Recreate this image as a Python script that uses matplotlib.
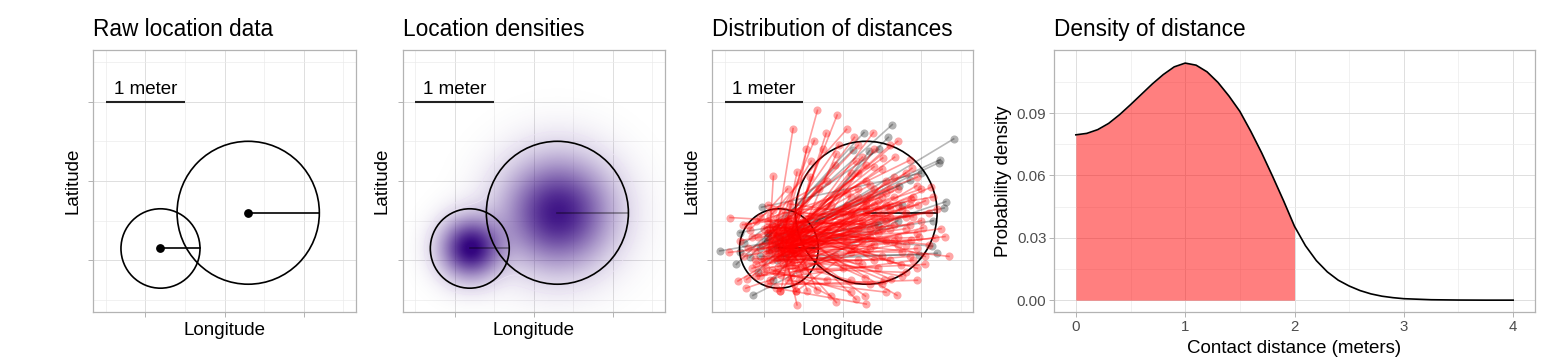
import numpy as np
import matplotlib.pyplot as plt
from matplotlib.patches import Circle

plt.rcParams['font.family'] = ['Liberation Sans', 'DejaVu Sans']

# two locations: centre (m) and uncertainty radius (m)
centre_x = [-0.81, 0.30]
centre_y = [-0.85, -0.40]
radius = [0.5, 0.9]

# sampled location pairs (small-circle end -> large-circle end), meters
seg_start = [
    (-0.80, -0.85), (-0.72, -0.80), (-0.85, -0.70), (-0.70, -0.92), (-0.90, -0.78),
    (-0.66, -0.74), (-0.78, -0.96), (-0.62, -0.86), (-0.94, -0.90), (-0.74, -0.66),
    (-0.70, -1.00), (-0.58, -0.70), (-0.82, -0.62), (-0.60, -0.62), (-0.88, -0.58),
    (-0.64, -0.98), (-0.76, -0.74), (-0.95, -0.66), (-0.55, -0.90), (-0.68, -0.60),
    (-0.60, -0.95), (-0.50, -0.80), (-0.70, -0.70), (-0.66, -1.02), (-0.56, -0.76),
    (-0.80, -0.82), (-0.64, -0.88), (-0.62, -0.72), (-0.66, -0.84), (-0.58, -0.66),
    (-0.72, -0.58), (-0.52, -0.94), (-0.90, -0.72), (-0.78, -0.90), (-0.60, -0.80),
    (-0.84, -0.96), (-0.74, -0.84), (-0.68, -0.78), (-0.88, -0.86), (-0.50, -0.70),
    (-0.62, -0.92), (-0.74, -0.60), (-0.56, -0.80), (-0.70, -0.68), (-0.86, -0.64),
    (-0.64, -0.70), (-0.80, -0.74), (-0.72, -0.52), (-0.92, -0.62), (-0.66, -0.64),
    (-0.76, -0.50), (-0.90, -0.56), (-0.60, -0.58), (-0.82, -0.52), (-0.70, -0.46),
    (-0.58, -0.50), (-0.95, -0.50), (-1.43, -0.46), (-1.27, -0.55), (-1.45, -0.90),
    (-1.33, -1.26), (-1.23, -1.35), (-1.22, -1.24), (-0.95, -0.30), (-0.67, -0.29),
    (-0.79, -1.39), (-0.59, -1.39), (-1.10, -1.05), (-1.15, -0.70), (-1.05, -1.20),
    (-1.00, -0.60), (-1.20, -0.85), (-1.05, -0.45), (-0.98, -1.10), (-1.12, -0.98),
    (-0.55, -1.15), (-0.50, -1.05), (-0.45, -0.85), (-0.48, -0.60), (-0.85, -1.15),
    (-0.65, -1.20), (-0.92, -1.25), (-1.02, -0.80), (-0.40, -0.75), (-0.42, -1.00),
    (-0.78, -0.88), (-0.82, -0.80), (-0.70, -0.86), (-0.75, -0.75), (-0.86, -0.92),
    (-0.68, -0.92), (-0.92, -0.80), (-0.80, -0.66), (-0.72, -0.96), (-0.60, -0.88),
    (-0.88, -0.74), (-0.66, -0.80), (-0.76, -1.04), (-0.84, -0.68), (-0.62, -0.78),
    (-0.96, -0.84), (-0.70, -0.62), (-0.78, -0.70), (-0.58, -0.94), (-0.90, -1.00),
    (-0.64, -1.06), (-0.82, -1.08), (-0.54, -0.72), (-0.74, -0.78), (-0.86, -0.80),
    (-0.66, -0.66), (-0.80, -0.94), (-0.94, -0.74), (-0.72, -0.72), (-0.60, -0.70),
    (-0.84, -0.84), (-0.76, -0.62), (-0.68, -0.84), (-0.52, -0.84), (-0.88, -0.66),
    (-0.64, -0.60), (-0.78, -0.58), (-0.98, -0.92), (-0.70, -0.76), (-0.74, -0.90),
    (-0.82, -0.76), (-0.62, -0.82), (-0.90, -0.88), (-0.56, -0.62), (-0.86, -0.58),
    (-0.66, -0.90), (-0.80, -1.00), (-0.72, -1.10), (-1.00, -0.98), (-0.96, -0.58),
    (-1.08, -0.70), (-1.12, -0.88), (-1.02, -1.02), (-0.60, -1.10), (-0.50, -0.95),
    (-0.46, -0.70), (-0.54, -0.56), (-0.70, -0.50), (-0.84, -0.46), (-0.62, -0.48),
    (-0.92, -0.44), (-0.78, -1.18), (-0.90, -1.12), (-1.00, -1.15), (-1.10, -1.20),
    (-0.95, -1.30), (-0.70, -1.25), (-0.55, -1.25), (-1.20, -0.55), (-1.18, -0.62),
    (-1.25, -0.95), (-1.30, -0.75), (-1.10, -0.50), (-1.15, -1.10), (-0.88, -0.36),
    (-0.76, -0.40), (-0.58, -0.40), (-0.50, -0.50), (-0.44, -0.62), (-0.40, -0.90),
    (-0.48, -1.12), (-0.62, -1.30), (-0.85, -1.35),
    # far pairs
    (-0.93, -0.87), (-0.99, -0.76), (-0.80, -0.72), (-1.18, -0.96), (-0.95, -0.70),
    (-1.08, -1.14), (-0.88, -1.25), (-1.25, -0.78), (-1.35, -1.05), (-1.05, -0.85),
    (-1.30, -0.90), (-0.75, -0.95), (-0.85, -0.80), (-0.95, -0.65), (-0.83, -1.00),
    (-1.05, -0.95), (-1.56, -0.88), (-1.31, -0.65), (-1.03, -0.33), (-1.14, -1.44),
]
seg_end = [
    (-0.32, 0.89), (-0.07, 0.83), (-0.63, 0.66), (-0.21, 0.60), (-0.36, 0.51),
    (-0.46, 0.40), (-0.25, 0.40), (-0.08, 0.34), (-0.88, 0.06), (-0.58, 0.11),
    (-0.41, 0.05), (0.39, 0.61), (0.51, 0.29), (0.66, 0.30), (0.85, 0.26),
    (0.88, 0.16), (0.40, 0.18), (0.17, 0.25), (0.10, 0.10), (-0.10, 0.20),
    (0.94, -0.06), (0.87, -0.23), (0.96, -0.30), (1.02, -0.59), (0.97, -0.71),
    (0.87, -0.74), (1.17, -0.72), (1.35, -0.95), (1.12, -0.08), (1.10, -0.40),
    (0.80, -0.45), (0.70, -0.30), (0.60, -0.10), (0.75, -0.90), (0.55, -0.75),
    (0.45, -0.25), (0.65, -0.55), (0.35, -0.60), (0.80, -0.60), (0.20, -0.20),
    (0.30, -0.40), (0.69, -1.44), (0.53, -1.25), (0.62, -1.24), (0.29, -1.45),
    (0.17, -1.49), (0.28, -1.22), (0.74, -1.06), (-0.08, -1.53), (-0.33, -1.37),
    (-0.45, -1.38), (-0.59, -1.39), (-0.79, -1.39), (-0.58, -1.56), (0.00, -1.10),
    (0.40, -1.00), (0.10, -0.90), (0.10, -0.55), (0.30, -0.35), (0.20, -0.70),
    (0.30, -0.30), (0.40, -0.80), (0.00, -0.40), (0.25, -0.55), (0.50, -0.45),
    (0.10, -0.20), (0.35, -0.70), (0.15, -0.45), (0.50, -0.20), (0.60, -0.60),
    (0.30, 0.00), (0.45, -0.35), (-0.20, 0.00), (0.70, -0.80), (0.20, -1.00),
    (0.80, -0.40), (0.55, 0.00), (1.00, -0.50), (0.65, -0.20), (0.30, -0.90),
    (0.90, -1.00), (-0.20, -0.60), (0.00, -0.70), (0.40, 0.40), (-0.10, -0.95),
    (0.55, -0.30), (0.70, -0.10), (0.20, 0.10), (0.90, -0.20), (0.40, -0.10),
    (0.60, -0.45), (0.30, -0.25), (0.85, -0.55), (0.95, -0.85), (1.05, -0.25),
    (0.50, 0.15), (0.25, 0.30), (0.65, 0.05), (-0.05, 0.45), (0.05, -0.30),
    (0.60, -0.30), (0.35, -0.05), (1.00, -0.10), (0.75, -1.20), (0.45, -1.10),
    (0.10, -1.25), (0.85, -0.95), (0.95, -1.10), (0.15, -0.85), (0.70, -0.70),
    (0.50, -0.95), (-0.15, -0.30), (0.05, -0.15), (0.60, 0.45), (0.80, 0.10),
    (1.15, -0.50), (1.10, -0.80), (1.20, -0.35), (1.25, -0.60), (0.95, 0.05),
    (0.70, 0.50), (0.20, 0.45), (0.20, -0.60), (0.40, -0.45), (0.50, -0.60),
    (0.10, -0.40), (0.75, -0.35), (0.35, -0.85), (0.55, -0.15), (0.65, -0.75),
    (0.25, -1.05), (0.60, -1.00), (0.80, -1.15), (0.25, -0.75), (0.45, -0.65),
    (0.35, -0.20), (0.55, -0.50), (0.40, -0.30), (0.00, -0.55), (0.85, -0.30),
    (0.95, -0.65), (0.30, 0.20), (-0.30, -0.10), (-0.40, 0.25), (0.15, 0.55),
    (0.05, 0.65), (0.50, -1.30), (0.10, -1.40), (-0.20, -1.25), (-0.30, -1.10),
    (0.35, -1.30), (0.55, -1.40), (-0.15, -1.45), (0.20, -0.10), (-0.70, -0.10),
    (0.10, -0.65), (0.25, -0.50), (0.40, -0.55), (0.05, -0.75), (0.60, -0.35),
    (0.90, -0.45), (1.05, -0.95), (1.15, -0.20), (0.80, -0.80), (1.30, -0.70),
    (1.05, -1.05), (0.95, -1.25), (0.30, -1.55),
    # far pairs
    (1.41, 0.53), (1.24, 0.27), (1.22, 0.23), (0.27, 0.61), (0.63, 0.71),
    (0.58, 0.55), (0.34, 0.38), (0.46, 0.40), (0.13, 0.39), (0.86, 0.01),
    (0.72, -0.06), (1.31, -0.26), (1.29, -0.34), (1.14, -0.82), (1.20, -0.91),
    (0.97, -0.93), (0.45, -0.55), (0.75, -0.30), (1.00, 0.10), (0.70, -0.50),
]

# contact distance density
dist = [0.0, 0.1, 0.2, 0.3, 0.4, 0.5, 0.6, 0.7, 0.8, 0.9,
        1.0, 1.1, 1.2, 1.3, 1.4, 1.5, 1.6, 1.7, 1.8, 1.9,
        2.0, 2.1, 2.2, 2.3, 2.4, 2.5, 2.6, 2.7, 2.8, 2.9,
        3.0, 3.25, 3.5, 3.75, 4.0]
density = [0.0795, 0.0802, 0.0820, 0.0850, 0.0892, 0.0940, 0.0990, 0.1040, 0.1085, 0.1122,
           0.1140, 0.1130, 0.1098, 0.1047, 0.0982, 0.0908, 0.0812, 0.0708, 0.0595, 0.0478,
           0.0355, 0.0262, 0.0190, 0.0136, 0.0096, 0.0068, 0.0046, 0.0030, 0.0019, 0.0012,
           0.0007, 0.0002, 0.00005, 0.0, 0.0]
contact_limit = 2.0

W, H = 1553, 364
fig = plt.figure(figsize=(W / 100, H / 100), dpi=100)


def add_panel(left, right, top=50, bottom=312):
    return fig.add_axes([left / W, (H - bottom) / H, (right - left) / W, (bottom - top) / H])


def style(ax):
    for s in ax.spines.values():
        s.set_color('#B3B3B3')
        s.set_linewidth(0.9)
    ax.grid(which='major', color='#DEDEDE', lw=0.7)
    ax.grid(which='minor', color='#EBEBEB', lw=0.5)
    ax.set_axisbelow(True)
    ax.tick_params(which='major', length=3.5, width=0.7, color='#B3B3B3',
                   labelcolor='#4D4D4D', labelsize=10.8, pad=2)
    ax.tick_params(which='minor', length=0)


def map_panel(ax, title):
    ax.set_xlim(-1.66, 1.66)
    ax.set_ylim(-1.65, 1.65)
    ax.set_xticks([-1, 0, 1])
    ax.set_yticks([-1, 0, 1])
    ax.set_xticks([-1.5, -0.5, 0.5, 1.5], minor=True)
    ax.set_yticks([-1.5, -0.5, 0.5, 1.5], minor=True)
    ax.set_xticklabels([])
    ax.set_yticklabels([])
    style(ax)
    ax.set_title(title, loc='left', fontsize=16.3, pad=10)
    ax.set_xlabel('Longitude', fontsize=13.5)
    ax.set_ylabel('Latitude', fontsize=13.5)
    ax.xaxis.set_label_coords(0.5, -0.04)
    ax.yaxis.set_label_coords(-0.045, 0.5)
    # scale bar
    ax.plot([-1.5, -0.5], [1.0, 1.0], color='#222222', lw=1.5, solid_capstyle='butt')
    ax.text(-1.0, 1.1, '1 meter', ha='center', va='baseline', fontsize=13.5)


def draw_circles(ax, lw=1.2, dots=True, rad_alpha=1.0, z=5):
    for cx, cy, r in zip(centre_x, centre_y, radius):
        ax.add_patch(Circle((cx, cy), r, fill=False, ec='black', lw=lw, zorder=z))
        ax.plot([cx, cx + r], [cy, cy], color='black', lw=lw, alpha=rad_alpha, zorder=z)
        if dots:
            ax.scatter([cx], [cy], s=28, color='black', zorder=z + 1)


# panel 1
ax1 = add_panel(93.3, 355.7)
map_panel(ax1, 'Raw location data')
draw_circles(ax1)

# panel 2
ax2 = add_panel(402.7, 664.7)
map_panel(ax2, 'Location densities')
gx, gy = np.meshgrid(np.linspace(-1.66, 1.66, 500), np.linspace(-1.65, 1.65, 500))
field = np.zeros_like(gx)
peaks = [1.0, 0.93]
for cx, cy, r, pk in zip(centre_x, centre_y, radius, peaks):
    sig = r / 2
    field += pk * np.exp(-((gx - cx) ** 2 + (gy - cy) ** 2) / (2 * sig ** 2))
field = np.clip(field, 0, 1)
rgba = np.zeros(field.shape + (4,))
rgba[..., 0] = 0.20
rgba[..., 1] = 0.02
rgba[..., 2] = 0.50
rgba[..., 3] = field ** 0.9
ax2.imshow(rgba, extent=(-1.66, 1.66, -1.65, 1.65), origin='lower',
           aspect='auto', zorder=1, interpolation='bilinear')
ax2.contour(gx, gy, field, levels=[0.07, 0.13], colors='#ECE4F5', linewidths=0.5, zorder=1)
draw_circles(ax2, dots=False, rad_alpha=0.4)

# panel 3
ax3 = add_panel(712, 973.3)
map_panel(ax3, 'Distribution of distances')
draw_circles(ax3, dots=False, z=1.5)
for (sx, sy), (ex, ey) in zip(seg_start, seg_end):
    d = np.hypot(ex - sx, ey - sy)
    near = d < contact_limit
    col = 'red' if near else 'black'
    z = 3 if near else 2
    ax3.plot([sx, ex], [sy, ey], color=col, alpha=0.38 if near else 0.28, lw=1.2, zorder=z)
    ax3.scatter([sx, ex], [sy, ey], s=34, color=col, alpha=0.35 if near else 0.3, lw=0, zorder=z)

# panel 4
ax4 = add_panel(1054, 1535)
style(ax4)
ax4.set_xlim(-0.2, 4.2)
ax4.set_ylim(-0.0057, 0.1203)
ax4.set_xticks([0, 1, 2, 3, 4])
ax4.set_xticks([0.5, 1.5, 2.5, 3.5], minor=True)
ax4.set_yticks([0, 0.03, 0.06, 0.09])
ax4.set_yticklabels(['0.00', '0.03', '0.06', '0.09'])
ax4.set_yticks([0.015, 0.045, 0.075, 0.105], minor=True)
xs = np.array(dist)
ys = np.array(density)
m = xs <= contact_limit
ax4.fill_between(xs[m], 0, ys[m], color='red', alpha=0.5, lw=0, zorder=1)
ax4.plot(xs, ys, color='black', lw=1.2, zorder=3)
ax4.set_title('Density of distance', loc='left', fontsize=16.3, pad=10)
ax4.set_xlabel('Contact distance (meters)', fontsize=13.5)
ax4.set_ylabel('Probability density', fontsize=13.5)
ax4.xaxis.set_label_coords(0.5, -0.105)
ax4.yaxis.set_label_coords(-0.087, 0.5)

fig.savefig('out.png', dpi=100)
